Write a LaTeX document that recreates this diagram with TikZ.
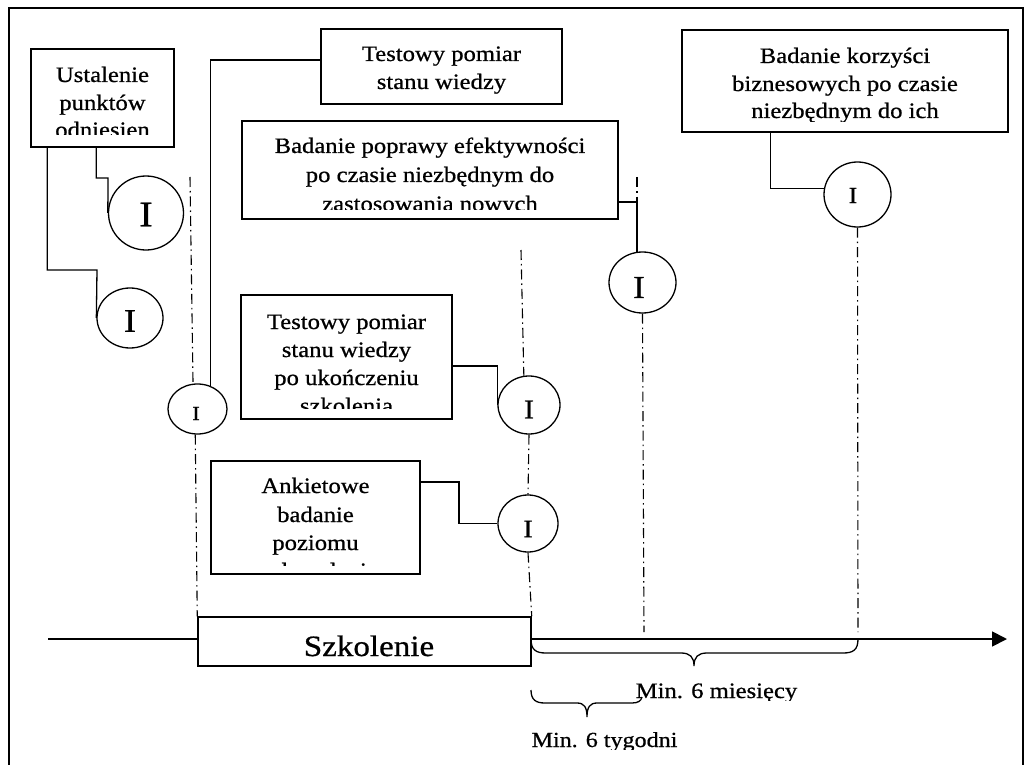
\documentclass[tikz,border=0pt]{standalone}
\usepackage{fontspec}
\setmainfont[FakeStretch=1.12,FakeBold=0.7]{Liberation Serif}
\usetikzlibrary{shapes.geometric,arrows.meta}
\begin{document}
\begin{tikzpicture}[x=1pt,y=-1pt,
  boxn/.style={draw,line width=1.5pt,fill=white,inner sep=0pt},
  txt/.style={anchor=base,inner sep=0pt,font=\fontsize{22}{26}\selectfont},
  circ/.style={draw,ellipse,line width=1.3pt,inner sep=0pt},
  itxt/.style={inner sep=0pt,anchor=center},
  conn/.style={line width=1.3pt},
  dd/.style={line width=1.1pt,dash pattern=on 10pt off 4pt on 1.5pt off 4pt},
  brace/.style={line width=1.3pt}]
\useasboundingbox (0,0) rectangle (1031,765);
% frame
\draw[line width=1.4pt] (9,765) -- (9,8) -- (1023,8) -- (1023,765);
% time axis
\coordinate (ax0) at (48,639);
\coordinate (ax1) at (1007,639);
\draw[line width=1.8pt,-{Triangle[length=15pt,width=15pt]}] (ax0) -- (ax1);
% boxes
\node[boxn,minimum width=143pt,minimum height=98pt] (b1) at (102.5,98) {};
\node[boxn,minimum width=241pt,minimum height=75pt] (b2) at (441.5,66.5) {};
\node[boxn,minimum width=376pt,minimum height=98pt] (b3) at (430,170) {};
\node[boxn,minimum width=326pt,minimum height=102pt] (b4) at (845,81) {};
\node[boxn,minimum width=211pt,minimum height=124pt] (b5) at (346.5,357) {};
\node[boxn,minimum width=209pt,minimum height=113pt] (b6) at (315.5,517.5) {};
\node[boxn,minimum width=333pt,minimum height=49pt] (b7) at (364.5,641.5) {};
% texts (clipped like the original text boxes)
\begin{scope}
\clip (31,49) rectangle (174,135);
\node[txt] (t1a) at (102.5,82) {Ustalenie};
\node[txt] (t1b) at (102.5,110) {punktów};
\node[txt] (t1c) at (102.5,137) {odniesien};
\end{scope}
\begin{scope}
\clip (321,29) rectangle (562,97);
\node[txt] (t2a) at (441.5,61) {Testowy pomiar};
\node[txt] (t2b) at (441.5,89) {stanu wiedzy};
\end{scope}
\begin{scope}
\clip (242,121) rectangle (618,209);
\node[txt] (t3a) at (430,153) {Badanie poprawy efektywności};
\node[txt] (t3b) at (430,182) {po czasie niezbędnym do};
\node[txt] (t3c) at (430,211) {zastosowania nowych};
\end{scope}
\begin{scope}
\clip (682,30) rectangle (1008,122);
\node[txt] (t4a) at (845,63) {Badanie korzyści};
\node[txt] (t4b) at (845,91) {biznesowych po czasie};
\node[txt] (t4c) at (845,118) {niezbędnym do ich};
\end{scope}
\begin{scope}
\clip (241,295) rectangle (452,408);
\node[txt] (t5a) at (346.5,329) {Testowy pomiar};
\node[txt] (t5b) at (346.5,357) {stanu wiedzy};
\node[txt] (t5c) at (346.5,385) {po ukończeniu};
\node[txt] (t5d) at (346.5,413) {szkolenia};
\end{scope}
\begin{scope}
\clip (211,461) rectangle (420,565);
\node[txt] (t6a) at (315.5,493) {Ankietowe};
\node[txt] (t6b) at (315.5,522) {badanie};
\node[txt] (t6c) at (315.5,550) {poziomu};
\node[txt] (t6d) at (315.5,578) {zadowolenia};
\end{scope}
\begin{scope}
\clip (198,617) rectangle (531,658);
\node[txt,font=\fontsize{29.5}{34}\selectfont] (t7) at (369,656) {Szkolenie};
\end{scope}
% circles
\node[circ,minimum width=75pt,minimum height=74pt] (c1) at (146,213) {};
\node[circ,minimum width=66pt,minimum height=60pt] (c2) at (130,318) {};
\node[circ,minimum width=59pt,minimum height=50pt] (c3) at (197.5,409) {};
\node[circ,minimum width=62pt,minimum height=58pt] (c4) at (529,405) {};
\node[circ,minimum width=60pt,minimum height=57pt] (c5) at (528,523.5) {};
\node[circ,minimum width=67pt,minimum height=61pt] (c6) at (642.5,282.5) {};
\node[circ,minimum width=67pt,minimum height=65pt] (c7) at (857.5,194.5) {};
\node[itxt,font=\fontsize{36}{40}\selectfont] (i1) at (146,214.5) {I};
\node[itxt,font=\fontsize{33}{38}\selectfont] (i2) at (130,321) {I};
\node[itxt,font=\fontsize{20}{24}\selectfont] (i3) at (196,413.5) {I};
\node[itxt,font=\fontsize{27}{30}\selectfont] (i4) at (529,409.5) {I};
\node[itxt,font=\fontsize{25}{30}\selectfont] (i5) at (528,529) {I};
\node[itxt,font=\fontsize{32}{36}\selectfont] (i6) at (639,287.5) {I};
\node[itxt,font=\fontsize{23}{28}\selectfont] (i7) at (853,195.5) {I};
% connectors
\draw[conn] ([xshift=66pt]b1.south west) |- (108,178) -- (c1.west);
\draw[conn] ([xshift=17pt]b1.south west) |- (97,270) -- (c2.west);
\draw[conn] ([yshift=6.5pt]b2.west) -| (c3.60);
\draw[conn] ([yshift=-32pt]b3.east) -| (c6.100);
\draw[conn] ([xshift=89pt]b4.south west) |- (c7.170);
\draw[conn] ([yshift=-9pt]b5.east) -| (c4.west);
\draw[conn] ([yshift=35.5pt]b6.east) -| (459,523.5) -- (c5.west);
% dash-dot guide lines
\coordinate (l1t) at (190,177);
\coordinate (l2t) at (521,250);
\coordinate (l3t) at (637,177);
\coordinate (l3j) at (637,202);
\coordinate (l3b) at (644,632);
\coordinate (l4b) at (858,632);
\draw[dd] (l1t) -- (c3.100);
\draw[dd] (c3.265) -- (b7.north west);
\draw[dd] (l2t) -- (c4.100);
\draw[dd] (c4.south) -- (c5.north);
\draw[dd] (c5.south) -- (b7.north east);
\draw[dd] (l3t) -- (l3j);
\draw[dd] (c6.south) -- (l3b);
\draw[dd] (c7.south) -- (l4b);
% braces
\draw[brace] (531,639) .. controls (531,650) and (536,653) .. (546,653) -- (681,653)
  .. controls (690,653) and (694,657) .. (694,666)
  .. controls (694,657) and (698,653) .. (707,653) -- (843,653)
  .. controls (853,653) and (858,650) .. (858,639);
\draw[brace] (531,690) .. controls (531,700) and (536,703) .. (545,703) -- (577,703)
  .. controls (584,703) and (587,707) .. (587,717)
  .. controls (587,707) and (590,703) .. (597,703) -- (632,703)
  .. controls (638,703) and (641,701) .. (642,697);
\begin{scope}
\clip (600,670) rectangle (850,700);
\node[txt,font=\fontsize{22}{26}\selectfont] (m1) at (716.5,698) {Min. 6 miesięcy};
\end{scope}
\begin{scope}
\clip (500,720) rectangle (720,749);
\node[txt,font=\fontsize{21.5}{26}\selectfont] (m2) at (604.5,747) {Min. 6 tygodni};
\end{scope}
\end{tikzpicture}
\end{document}
